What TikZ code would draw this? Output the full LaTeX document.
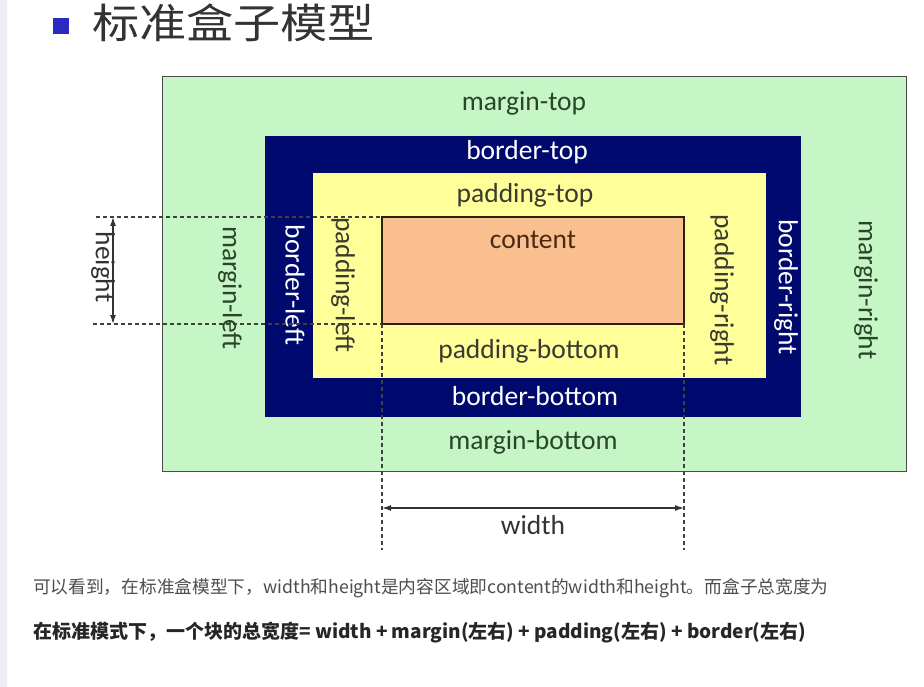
\documentclass[tikz,border=0pt]{standalone}
\usepackage{fontspec}
\setmainfont{Carlito}
\newfontfamily\cjk{Noto Sans CJK SC}
\newfontfamily\cjktitle{Noto Sans CJK SC}[FakeStretch=1.15]
\usetikzlibrary{arrows.meta}
\definecolor{mgreen}{HTML}{C6F5C6}
\definecolor{navyb}{HTML}{000A6E}
\definecolor{padyel}{HTML}{FFFF99}
\definecolor{peach}{HTML}{FABF8F}
\definecolor{mtext}{HTML}{2A452A}
\definecolor{ptext}{HTML}{3A3A30}
\definecolor{ctext}{HTML}{4A2A12}
\definecolor{dashc}{HTML}{404040}
\definecolor{bodyt}{HTML}{4D4D4D}
\definecolor{strip}{HTML}{EDEDF4}
\definecolor{bullet}{HTML}{2A2AC0}
\begin{document}
\begin{tikzpicture}[x=1pt,y=-1pt,
  boxr/.style={anchor=north west,inner sep=0pt,outer sep=0pt},
  lbl/.style={font=\fontsize{27.5}{27.5}\selectfont,inner sep=0pt},
  dimline/.style={dashc,dash pattern=on 4pt off 3pt,line width=1.1pt},
  dimarrow/.style={{Latex[length=9pt,width=6pt]}-{Latex[length=9pt,width=6pt]},black!80,line width=1.3pt}]
\useasboundingbox (0,0) rectangle (924,687);
\fill[white] (0,0) rectangle (924,687);
\fill[strip] (0,0) rectangle (7,687);
% title
\node[boxr,fill=bullet,minimum width=16pt,minimum height=16pt] (bul) at (53,18) {};
\node[anchor=west,inner sep=0pt,text=black!80,font=\cjktitle\fontsize{41}{41}\selectfont] (title) at (92,23) {标准盒子模型};
% boxes
\node[boxr,fill=mgreen,draw=black!70,line width=1pt,minimum width=744pt,minimum height=394pt] (margin) at (162,77) {};
\node[boxr,fill=navyb,minimum width=536pt,minimum height=281pt] (border) at (265,136) {};
\node[boxr,fill=padyel,minimum width=453pt,minimum height=205pt] (padding) at (313,173) {};
\node[boxr,fill=peach,draw=black!75!brown,line width=1.2pt,minimum width=302pt,minimum height=107pt] (content) at (382,217) {};
% labels
\node[lbl,text=mtext] (mt) at (524,103) {margin-top};
\node[lbl,text=white] (bt) at (527,152) {border-top};
\node[lbl,text=ptext] (pt) at (525,195) {padding-top};
\node[lbl,text=ctext] (ct) at (533,240) {content};
\node[lbl,text=ptext] (pb) at (529,351) {padding-bottom};
\node[lbl,text=white] (bb) at (535,396) {border-bottom};
\node[lbl,text=mtext] (mb) at (533,442) {margin-bottom};
\node[lbl,text=mtext,rotate=-90] (ml) at (230,288) {margin-left};
\node[lbl,text=white,rotate=-90] (bl) at (295,285) {border-left};
\node[lbl,text=ptext,rotate=-90] (pl) at (343,285) {padding-left};
\node[lbl,text=ptext,rotate=-90] (pr) at (722,290) {padding-right};
\node[lbl,text=white,rotate=-90] (br) at (786,287) {border-right};
\node[lbl,text=mtext,rotate=-90] (mr) at (866,290) {margin-right};
% dimension lines
\coordinate (htop) at (96,217);
\coordinate (hbot) at (93,324);
\coordinate (wl) at (382,550);
\coordinate (wr) at (684,550);
\draw[dimline] (htop) -- (content.north west);
\draw[dimline] (hbot) -- (content.south west);
\draw[dimline] (content.south west) -- (wl);
\draw[dimline] (content.south east) -- (wr);
\coordinate (ha) at (113,217);
\coordinate (hb) at (113,324);
\draw[dimarrow] (ha) -- (hb);
\node[lbl,text=black!80,rotate=-90] (hl) at (103,267) {height};
\coordinate (wa) at (382,508);
\coordinate (wb) at (684,508);
\draw[dimarrow] (wa) -- (wb);
\node[lbl,text=black!80] (wlab) at (533,525) {width};
% body text
\node[anchor=west,inner sep=0pt,text=bodyt,font=\cjk\fontsize{17.7}{17.7}\selectfont] (line1) at (33,588) {可以看到，在标准盒模型下，width和height是内容区域即content的width和height。而盒子总宽度为};
\node[anchor=west,inner sep=0pt,text=black!85,font=\cjk\bfseries\fontsize{19}{19}\selectfont] (line2) at (33,633) {在标准模式下，一个块的总宽度= width + margin(左右) + padding(左右) + border(左右)};
\end{tikzpicture}
\end{document}
